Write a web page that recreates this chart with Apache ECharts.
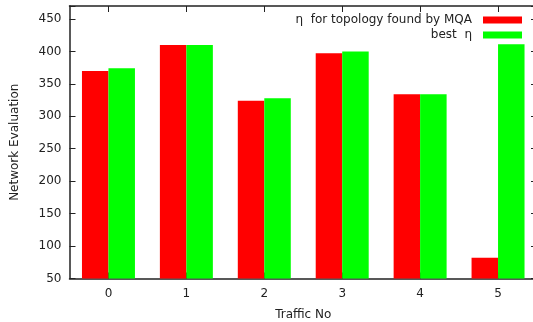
<!DOCTYPE html>
<html>
<head>
<meta charset="utf-8">
<script src="https://cdn.jsdelivr.net/npm/echarts@6/dist/echarts.min.js"></script>
<style>
    html, body { margin: 0; padding: 0; background: #fff; }
    #chartDom { width: 533px; height: 322px; }
</style>
</head>
<body>
<div id="chartDom"></div>
<script>
var trafficNo = ['0', '1', '2', '3', '4', '5'];
var mqaEta = [370, 410, 324, 397, 334, 82];
var bestEta = [374, 410, 328, 400, 334, 411];
var yTicks = [50, 100, 150, 200, 250, 300, 350, 400, 450];

var nameMqa = 'η  for topology found by MQA';
var nameBest = 'best  η';
var font = 'DejaVu Sans';

var myChart = echarts.init(document.getElementById('chartDom'));
var option = {
    animation: false,
    textStyle: { fontFamily: font },
    grid: { left: 69.5, width: 467.5, top: 6, height: 272.5, outerBoundsMode: 'none', containLabel: false },
    legend: [{
        data: [nameMqa],
        right: 11,
        top: 14,
        padding: 0,
        align: 'right',
        itemWidth: 39,
        itemHeight: 7,
        icon: 'rect',
        textStyle: { fontSize: 12, color: '#222', fontFamily: font, padding: [0, 6, 0, 0] }
    }, {
        data: [nameBest],
        right: 11,
        top: 29,
        padding: 0,
        align: 'right',
        itemWidth: 39,
        itemHeight: 7,
        icon: 'rect',
        textStyle: { fontSize: 12, color: '#222', fontFamily: font, padding: [0, 6, 0, 0] }
    }],
    xAxis: [{
        type: 'category',
        data: trafficNo,
        name: 'Traffic No',
        nameLocation: 'middle',
        nameGap: 30,
        nameTextStyle: { fontSize: 12, color: '#222' },
        axisLine: { lineStyle: { color: '#222', width: 1.5 } },
        axisTick: { show: true, inside: true, alignWithLabel: true, length: 6, lineStyle: { color: '#222' } },
        axisLabel: { fontSize: 12, color: '#222', margin: 9 },
        splitLine: { show: false }
    }, {
        type: 'category',
        data: trafficNo,
        position: 'top',
        axisLine: { lineStyle: { color: '#222', width: 1.5 } },
        axisTick: { show: true, inside: true, alignWithLabel: true, length: 6, lineStyle: { color: '#222' } },
        axisLabel: { show: false },
        splitLine: { show: false }
    }],
    yAxis: [{
        type: 'value',
        min: 50,
        max: 470,
        interval: 50,
        name: 'Network Evaluation',
        nameLocation: 'middle',
        nameGap: 49,
        nameTextStyle: { fontSize: 12, color: '#222' },
        axisLine: { show: true, lineStyle: { color: '#222', width: 1.5 } },
        axisTick: { show: true, inside: true, length: 6, lineStyle: { color: '#222' } },
        axisLabel: {
            fontSize: 12, color: '#222', margin: 8,
            formatter: function (v) { return yTicks.indexOf(v) >= 0 ? v : ''; }
        },
        splitLine: { show: false }
    }, {
        type: 'value',
        min: 50,
        max: 470,
        interval: 50,
        position: 'right',
        axisLine: { show: true, lineStyle: { color: '#222', width: 1.5 } },
        axisTick: { show: true, inside: true, length: 6, lineStyle: { color: '#222' } },
        axisLabel: { show: false },
        splitLine: { show: false }
    }],
    series: [{
        name: nameMqa,
        type: 'bar',
        data: mqaEta,
        barGap: '0%',
        barCategoryGap: '32%',
        itemStyle: { color: '#ff0000' }
    }, {
        name: nameBest,
        type: 'bar',
        data: bestEta,
        barGap: '0%',
        barCategoryGap: '32%',
        itemStyle: { color: '#00ff00' }
    }]
};
myChart.setOption(option);
</script>
</body>
</html>
